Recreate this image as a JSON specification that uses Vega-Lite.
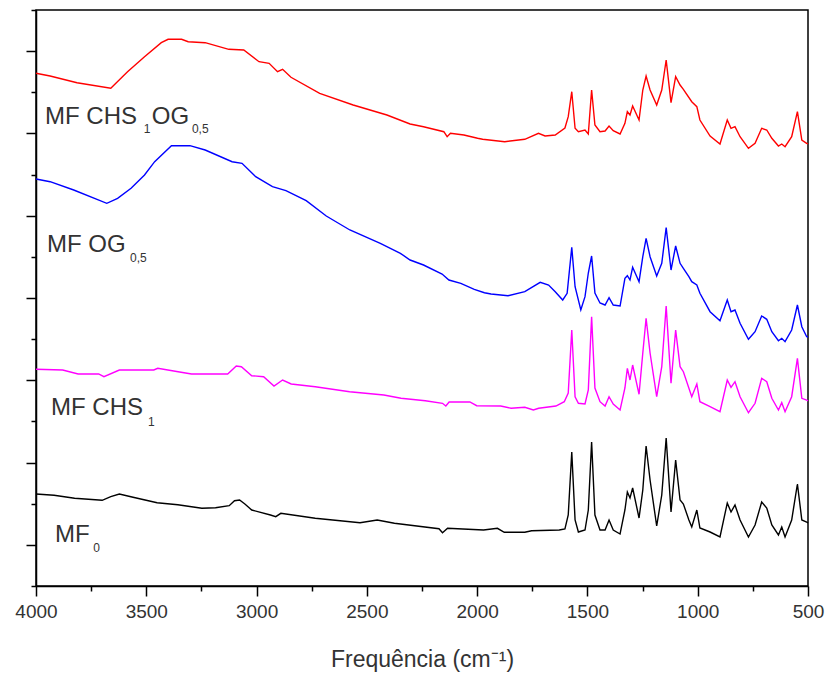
{
  "$schema": "https://vega.github.io/schema/vega-lite/v6.json",
  "width": 772,
  "height": 576,
  "autosize": {"type": "none"},
  "padding": {"left": 36, "top": 10, "right": 20, "bottom": 89},
  "background": "white",
  "config": {
    "view": {"stroke": "#000", "strokeWidth": 1.5},
    "axis": {"grid": false, "domainColor": "#000", "domainWidth": 1.5, "tickColor": "#000", "tickWidth": 1.5}
  },
  "datasets": {
    "spectra": [
      {"s":"r","w":4000,"a":512.7},{"s":"r","w":3936,"a":510},{"s":"r","w":3814,"a":503.3},{"s":"r","w":3661,"a":497.7},{"s":"r","w":3585,"a":514.3},{"s":"r","w":3508,"a":529.3},{"s":"r","w":3432,"a":543.3},{"s":"r","w":3401,"a":546.7},{"s":"r","w":3340,"a":546.7},{"s":"r","w":3310,"a":544.3},{"s":"r","w":3233,"a":543.3},{"s":"r","w":3126,"a":536.7},{"s":"r","w":3058,"a":536},{"s":"r","w":2989,"a":524.3},{"s":"r","w":2943,"a":522.7},{"s":"r","w":2905,"a":514.3},{"s":"r","w":2882,"a":516.7},{"s":"r","w":2844,"a":508.7},{"s":"r","w":2714,"a":492.7},{"s":"r","w":2562,"a":481},{"s":"r","w":2409,"a":471},{"s":"r","w":2304,"a":462},{"s":"r","w":2243,"a":459.3},{"s":"r","w":2151,"a":454.3},{"s":"r","w":2136,"a":449.3},{"s":"r","w":2121,"a":452.7},{"s":"r","w":2060,"a":451},{"s":"r","w":1998,"a":447.7},{"s":"r","w":1975,"a":446.7},{"s":"r","w":1875,"a":444.3},{"s":"r","w":1784,"a":446.7},{"s":"r","w":1722,"a":452.7},{"s":"r","w":1692,"a":450},{"s":"r","w":1646,"a":451},{"s":"r","w":1602,"a":458},{"s":"r","w":1587,"a":469.3},{"s":"r","w":1571,"a":494.3},{"s":"r","w":1556,"a":457.7},{"s":"r","w":1541,"a":454.3},{"s":"r","w":1511,"a":456},{"s":"r","w":1496,"a":452},{"s":"r","w":1481,"a":496},{"s":"r","w":1466,"a":461},{"s":"r","w":1443,"a":454.3},{"s":"r","w":1420,"a":455},{"s":"r","w":1402,"a":460},{"s":"r","w":1383,"a":455.3},{"s":"r","w":1352,"a":452},{"s":"r","w":1330,"a":462.7},{"s":"r","w":1319,"a":474.3},{"s":"r","w":1307,"a":471},{"s":"r","w":1295,"a":480},{"s":"r","w":1266,"a":466},{"s":"r","w":1249,"a":496},{"s":"r","w":1234,"a":510},{"s":"r","w":1216,"a":496},{"s":"r","w":1186,"a":481},{"s":"r","w":1163,"a":496},{"s":"r","w":1143,"a":526},{"s":"r","w":1121,"a":483.3},{"s":"r","w":1100,"a":509.3},{"s":"r","w":1080,"a":501},{"s":"r","w":1065,"a":496.7},{"s":"r","w":1027,"a":484.3},{"s":"r","w":1004,"a":479.3},{"s":"r","w":990,"a":466},{"s":"r","w":944,"a":450},{"s":"r","w":899,"a":442},{"s":"r","w":866,"a":466},{"s":"r","w":849,"a":457.7},{"s":"r","w":831,"a":459.3},{"s":"r","w":808,"a":449.3},{"s":"r","w":770,"a":437.7},{"s":"r","w":740,"a":442.7},{"s":"r","w":710,"a":457.7},{"s":"r","w":687,"a":456},{"s":"r","w":664,"a":447.7},{"s":"r","w":634,"a":440},{"s":"r","w":619,"a":442},{"s":"r","w":604,"a":439.3},{"s":"r","w":574,"a":449.3},{"s":"r","w":548,"a":474.3},{"s":"r","w":528,"a":446},{"s":"r","w":506,"a":442.7},{"s":"r","w":500,"a":442},

      {"s":"b","w":4000,"a":407},{"s":"b","w":3936,"a":404.3},{"s":"b","w":3829,"a":396},{"s":"b","w":3679,"a":382.7},{"s":"b","w":3630,"a":387.7},{"s":"b","w":3569,"a":397.7},{"s":"b","w":3508,"a":411},{"s":"b","w":3462,"a":424.3},{"s":"b","w":3386,"a":440.3},{"s":"b","w":3302,"a":440.3},{"s":"b","w":3233,"a":436},{"s":"b","w":3111,"a":424.3},{"s":"b","w":3066,"a":422.7},{"s":"b","w":3004,"a":409.3},{"s":"b","w":2928,"a":399.3},{"s":"b","w":2867,"a":395.3},{"s":"b","w":2775,"a":385.3},{"s":"b","w":2684,"a":370},{"s":"b","w":2577,"a":356},{"s":"b","w":2439,"a":342.7},{"s":"b","w":2348,"a":332.7},{"s":"b","w":2304,"a":326},{"s":"b","w":2243,"a":321},{"s":"b","w":2159,"a":312},{"s":"b","w":2128,"a":306},{"s":"b","w":2074,"a":302.7},{"s":"b","w":2013,"a":296.7},{"s":"b","w":1967,"a":293.3},{"s":"b","w":1937,"a":292},{"s":"b","w":1860,"a":290.3},{"s":"b","w":1784,"a":294.3},{"s":"b","w":1714,"a":303.7},{"s":"b","w":1676,"a":301},{"s":"b","w":1646,"a":294.3},{"s":"b","w":1612,"a":286},{"s":"b","w":1592,"a":292.7},{"s":"b","w":1571,"a":338.7},{"s":"b","w":1556,"a":299.3},{"s":"b","w":1530,"a":276},{"s":"b","w":1511,"a":289.3},{"s":"b","w":1496,"a":313},{"s":"b","w":1481,"a":330},{"s":"b","w":1466,"a":293},{"s":"b","w":1443,"a":283},{"s":"b","w":1420,"a":281},{"s":"b","w":1402,"a":288.3},{"s":"b","w":1383,"a":281},{"s":"b","w":1352,"a":280},{"s":"b","w":1330,"a":307.7},{"s":"b","w":1319,"a":310.3},{"s":"b","w":1307,"a":306},{"s":"b","w":1295,"a":318.7},{"s":"b","w":1266,"a":304.3},{"s":"b","w":1249,"a":329.3},{"s":"b","w":1234,"a":347.7},{"s":"b","w":1216,"a":329.3},{"s":"b","w":1186,"a":310},{"s":"b","w":1163,"a":322.7},{"s":"b","w":1143,"a":358.3},{"s":"b","w":1121,"a":316},{"s":"b","w":1100,"a":340},{"s":"b","w":1080,"a":322.7},{"s":"b","w":1065,"a":317.7},{"s":"b","w":1040,"a":309.3},{"s":"b","w":1027,"a":304.3},{"s":"b","w":1004,"a":301},{"s":"b","w":990,"a":292.7},{"s":"b","w":944,"a":274.3},{"s":"b","w":899,"a":265.3},{"s":"b","w":866,"a":286},{"s":"b","w":849,"a":274.3},{"s":"b","w":831,"a":276},{"s":"b","w":808,"a":262.7},{"s":"b","w":770,"a":246.7},{"s":"b","w":740,"a":254.3},{"s":"b","w":710,"a":270},{"s":"b","w":687,"a":266.7},{"s":"b","w":664,"a":254.3},{"s":"b","w":634,"a":245.3},{"s":"b","w":619,"a":247.7},{"s":"b","w":604,"a":244.3},{"s":"b","w":574,"a":256},{"s":"b","w":548,"a":281},{"s":"b","w":528,"a":259.3},{"s":"b","w":506,"a":249.3},{"s":"b","w":500,"a":249},

      {"s":"m","w":4000,"a":216.7},{"s":"m","w":3879,"a":216},{"s":"m","w":3809,"a":212},{"s":"m","w":3716,"a":212},{"s":"m","w":3692,"a":209.3},{"s":"m","w":3622,"a":216},{"s":"m","w":3466,"a":216},{"s":"m","w":3448,"a":217.7},{"s":"m","w":3349,"a":214},{"s":"m","w":3295,"a":212},{"s":"m","w":3131,"a":212},{"s":"m","w":3092,"a":220},{"s":"m","w":3069,"a":219.3},{"s":"m","w":3022,"a":210.3},{"s":"m","w":2968,"a":209.3},{"s":"m","w":2921,"a":200},{"s":"m","w":2882,"a":206},{"s":"m","w":2843,"a":202},{"s":"m","w":2734,"a":199.3},{"s":"m","w":2578,"a":194.3},{"s":"m","w":2423,"a":191},{"s":"m","w":2345,"a":187.7},{"s":"m","w":2235,"a":185.3},{"s":"m","w":2157,"a":182.7},{"s":"m","w":2142,"a":180},{"s":"m","w":2127,"a":184},{"s":"m","w":2033,"a":184},{"s":"m","w":2002,"a":180.3},{"s":"m","w":1893,"a":180},{"s":"m","w":1846,"a":177.7},{"s":"m","w":1784,"a":178.7},{"s":"m","w":1745,"a":176},{"s":"m","w":1721,"a":177.7},{"s":"m","w":1643,"a":180},{"s":"m","w":1605,"a":184.3},{"s":"m","w":1587,"a":193},{"s":"m","w":1571,"a":256},{"s":"m","w":1556,"a":189.3},{"s":"m","w":1541,"a":182.7},{"s":"m","w":1511,"a":182},{"s":"m","w":1496,"a":196},{"s":"m","w":1481,"a":269.3},{"s":"m","w":1466,"a":198},{"s":"m","w":1443,"a":184.3},{"s":"m","w":1420,"a":180},{"s":"m","w":1402,"a":189.3},{"s":"m","w":1383,"a":182},{"s":"m","w":1352,"a":176},{"s":"m","w":1330,"a":198},{"s":"m","w":1319,"a":217.7},{"s":"m","w":1307,"a":206},{"s":"m","w":1295,"a":221},{"s":"m","w":1266,"a":191.7},{"s":"m","w":1249,"a":233},{"s":"m","w":1234,"a":267.7},{"s":"m","w":1216,"a":233},{"s":"m","w":1186,"a":189.3},{"s":"m","w":1163,"a":219.3},{"s":"m","w":1143,"a":280},{"s":"m","w":1121,"a":202.7},{"s":"m","w":1100,"a":256},{"s":"m","w":1080,"a":219.3},{"s":"m","w":1065,"a":214.3},{"s":"m","w":1027,"a":189.3},{"s":"m","w":1004,"a":202},{"s":"m","w":990,"a":184.3},{"s":"m","w":944,"a":179.3},{"s":"m","w":899,"a":174.3},{"s":"m","w":866,"a":206},{"s":"m","w":849,"a":198.7},{"s":"m","w":831,"a":204.3},{"s":"m","w":808,"a":189.3},{"s":"m","w":770,"a":173.3},{"s":"m","w":740,"a":182.7},{"s":"m","w":710,"a":207.7},{"s":"m","w":687,"a":204.3},{"s":"m","w":664,"a":187.7},{"s":"m","w":634,"a":176},{"s":"m","w":619,"a":183.3},{"s":"m","w":604,"a":174.3},{"s":"m","w":574,"a":189.3},{"s":"m","w":548,"a":227.7},{"s":"m","w":528,"a":187.7},{"s":"m","w":506,"a":186},{"s":"m","w":500,"a":185},

      {"s":"k","w":4000,"a":92},{"s":"k","w":3918,"a":90.7},{"s":"k","w":3825,"a":87.7},{"s":"k","w":3700,"a":85.7},{"s":"k","w":3661,"a":89.3},{"s":"k","w":3622,"a":92},{"s":"k","w":3560,"a":88.7},{"s":"k","w":3451,"a":83.3},{"s":"k","w":3357,"a":81.3},{"s":"k","w":3248,"a":77.7},{"s":"k","w":3186,"a":78.3},{"s":"k","w":3124,"a":80.3},{"s":"k","w":3100,"a":85.3},{"s":"k","w":3077,"a":86},{"s":"k","w":3053,"a":82},{"s":"k","w":3022,"a":76},{"s":"k","w":2937,"a":71},{"s":"k","w":2913,"a":69.3},{"s":"k","w":2890,"a":72.7},{"s":"k","w":2734,"a":67.7},{"s":"k","w":2531,"a":63.3},{"s":"k","w":2453,"a":66},{"s":"k","w":2375,"a":62.7},{"s":"k","w":2173,"a":57.3},{"s":"k","w":2157,"a":53.3},{"s":"k","w":2134,"a":57.7},{"s":"k","w":1971,"a":56},{"s":"k","w":1908,"a":57.7},{"s":"k","w":1877,"a":53.7},{"s":"k","w":1784,"a":53.7},{"s":"k","w":1753,"a":55.3},{"s":"k","w":1628,"a":56},{"s":"k","w":1602,"a":57},{"s":"k","w":1587,"a":71},{"s":"k","w":1571,"a":134},{"s":"k","w":1556,"a":66},{"s":"k","w":1541,"a":54},{"s":"k","w":1511,"a":56},{"s":"k","w":1496,"a":76},{"s":"k","w":1481,"a":144},{"s":"k","w":1466,"a":71},{"s":"k","w":1443,"a":56},{"s":"k","w":1420,"a":56},{"s":"k","w":1402,"a":66},{"s":"k","w":1383,"a":56},{"s":"k","w":1352,"a":52},{"s":"k","w":1330,"a":76},{"s":"k","w":1319,"a":94},{"s":"k","w":1307,"a":88},{"s":"k","w":1295,"a":98},{"s":"k","w":1266,"a":68},{"s":"k","w":1249,"a":96},{"s":"k","w":1234,"a":140},{"s":"k","w":1216,"a":106},{"s":"k","w":1186,"a":60},{"s":"k","w":1163,"a":91},{"s":"k","w":1143,"a":148},{"s":"k","w":1121,"a":74},{"s":"k","w":1100,"a":126},{"s":"k","w":1080,"a":86},{"s":"k","w":1065,"a":82},{"s":"k","w":1040,"a":66},{"s":"k","w":1027,"a":59},{"s":"k","w":1004,"a":76},{"s":"k","w":990,"a":58},{"s":"k","w":944,"a":54},{"s":"k","w":899,"a":49},{"s":"k","w":866,"a":83},{"s":"k","w":849,"a":74},{"s":"k","w":831,"a":81},{"s":"k","w":808,"a":66},{"s":"k","w":770,"a":49},{"s":"k","w":740,"a":61},{"s":"k","w":710,"a":84},{"s":"k","w":687,"a":78},{"s":"k","w":664,"a":61},{"s":"k","w":634,"a":51},{"s":"k","w":619,"a":59},{"s":"k","w":604,"a":49},{"s":"k","w":574,"a":66},{"s":"k","w":548,"a":102},{"s":"k","w":528,"a":66},{"s":"k","w":506,"a":64},{"s":"k","w":500,"a":63}
    ],
    "labels": [
      {"t":"MF CHS","w":3959,"a":462,"k":"main"},
      {"t":"1","w":3511,"a":453,"k":"sub"},
      {"t":"OG","w":3475,"a":462,"k":"main"},
      {"t":"0,5","w":3293,"a":453,"k":"sub"},
      {"t":"MF OG","w":3950,"a":334,"k":"main"},
      {"t":"0,5","w":3574,"a":324,"k":"sub"},
      {"t":"MF CHS","w":3932,"a":171,"k":"main"},
      {"t":"1","w":3492,"a":160,"k":"sub"},
      {"t":"MF","w":3914,"a":44,"k":"main"},
      {"t":"0","w":3741,"a":34,"k":"sub"}
    ]
  },
  "layer": [
    {
      "data": {"name": "spectra"},
      "mark": {"type": "line", "strokeWidth": 1.4},
      "encoding": {
        "x": {
          "field": "w", "type": "quantitative",
          "scale": {"domain": [500, 4000], "reverse": true, "nice": false, "zero": false},
          "axis": {
            "values": [500,750,1000,1250,1500,1750,2000,2250,2500,2750,3000,3250,3500,3750,4000],
            "format": "d",
            "labelExpr": "datum.value % 500 == 0 ? datum.label : ''",
            "labelOverlap": false,
            "labelFlush": false,
            "tickSize": {"condition": {"test": "datum.value % 500 == 0", "value": 10}, "value": 5},
            "labelFontSize": 19,
            "labelFont": "Liberation Sans",
            "labelColor": "#333",
            "labelPadding": 6,
            "title": "Frequência (cm⁻¹)",
            "titleFontSize": 23,
            "titleFont": "Liberation Sans",
            "titleFontWeight": "normal",
            "titleColor": "#333",
            "titlePadding": 27
          }
        },
        "y": {
          "field": "a", "type": "quantitative",
          "scale": {"domain": [0, 576], "nice": false, "zero": false},
          "axis": {
            "values": [0,41.142857,82.285714,123.428571,164.571429,205.714286,246.857143,288,329.142857,370.285714,411.428571,452.571429,493.714286,534.857143,576],
            "labels": false,
            "title": null,
            "tickSize": {"condition": {"test": "round(datum.value/41.142857) % 2 == 1", "value": 10}, "value": 5}
          }
        },
        "color": {
          "field": "s", "type": "nominal",
          "scale": {"domain": ["r","b","m","k"], "range": ["#ff0000","#0000ff","#ff00ff","#000000"]},
          "legend": null
        }
      }
    },
    {
      "data": {"name": "labels"},
      "transform": [{"filter": "datum.k == 'main'"}],
      "mark": {"type": "text", "align": "left", "baseline": "alphabetic", "fontSize": 24, "font": "Liberation Sans", "color": "#333"},
      "encoding": {
        "x": {"field": "w", "type": "quantitative"},
        "y": {"field": "a", "type": "quantitative"},
        "text": {"field": "t"}
      }
    },
    {
      "data": {"name": "labels"},
      "transform": [{"filter": "datum.k == 'sub'"}],
      "mark": {"type": "text", "align": "left", "baseline": "alphabetic", "fontSize": 12, "font": "Liberation Sans", "color": "#333"},
      "encoding": {
        "x": {"field": "w", "type": "quantitative"},
        "y": {"field": "a", "type": "quantitative"},
        "text": {"field": "t"}
      }
    }
  ]
}
